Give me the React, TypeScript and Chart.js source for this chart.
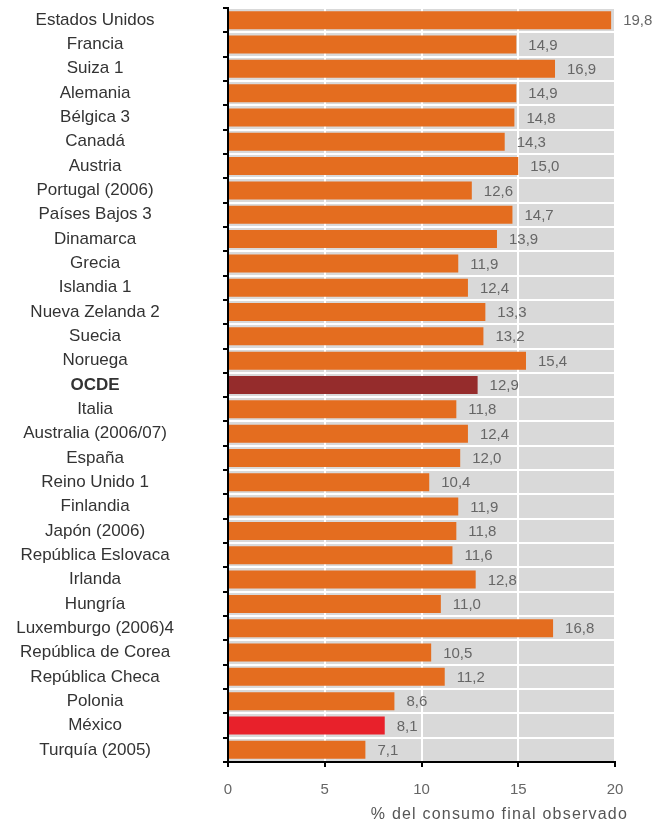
import React, { useEffect, useRef } from 'react';
import { Chart, registerables } from 'chart.js';

Chart.register(...registerables);

const categories = [
  'Estados Unidos', 'Francia', 'Suiza 1', 'Alemania', 'Bélgica 3', 'Canadá', 'Austria',
  'Portugal (2006)', 'Países Bajos 3', 'Dinamarca', 'Grecia', 'Islandia 1', 'Nueva Zelanda 2',
  'Suecia', 'Noruega', 'OCDE', 'Italia', 'Australia (2006/07)', 'España', 'Reino Unido 1',
  'Finlandia', 'Japón (2006)', 'República Eslovaca', 'Irlanda', 'Hungría', 'Luxemburgo (2006)4',
  'República de Corea', 'República Checa', 'Polonia', 'México', 'Turquía (2005)',
];

const values = [
  19.8, 14.9, 16.9, 14.9, 14.8, 14.3, 15.0, 12.6, 14.7, 13.9, 11.9, 12.4, 13.3, 13.2, 15.4,
  12.9, 11.8, 12.4, 12.0, 10.4, 11.9, 11.8, 11.6, 12.8, 11.0, 16.8, 10.5, 11.2, 8.6, 8.1, 7.1,
];

const xTicks = [0, 5, 10, 15, 20];
const axisTitle = '% del consumo final observado';
const averageLabel = 'OCDE';
const highlightLabel = 'México';

const FONT = '"Liberation Sans", Arial, sans-serif';
const ORANGE = '#E46D1F';
const DARK_RED = '#952C2C';
const RED = '#E8212B';

const fmt = (v: number) => v.toFixed(1).replace('.', ',');

export default function App() {
  const ref = useRef<HTMLCanvasElement | null>(null);

  useEffect(() => {
    if (!ref.current) return;

    const bgPlugin = {
      id: 'plotBg',
      beforeDraw(chart: any) {
        const { ctx, chartArea } = chart;
        ctx.save();
        ctx.fillStyle = '#d9d9d9';
        ctx.fillRect(chartArea.left, chartArea.top, chartArea.right - chartArea.left, chartArea.bottom - chartArea.top);
        ctx.restore();
      },
    };

    const labelPlugin = {
      id: 'valueLabels',
      afterDatasetsDraw(chart: any) {
        const { ctx } = chart;
        const meta = chart.getDatasetMeta(0);
        ctx.save();
        ctx.font = `15px ${FONT}`;
        ctx.fillStyle = '#666';
        ctx.textAlign = 'left';
        ctx.textBaseline = 'middle';
        meta.data.forEach((el: any, i: number) => {
          ctx.fillText(fmt(values[i]), el.x + 12, el.y + 1);
        });
        ctx.restore();
      },
      afterDraw(chart: any) {
        const { ctx } = chart;
        ctx.save();
        ctx.font = `16px ${FONT}`;
        ctx.fillStyle = '#555';
        ctx.textAlign = 'right';
        ctx.textBaseline = 'middle';
        try { (ctx as any).letterSpacing = '1.2px'; } catch (e) {}
        ctx.fillText(axisTitle, 628, 815);
        ctx.restore();
      },
    };

    const chart = new Chart(ref.current, {
      type: 'bar',
      data: {
        labels: categories,
        datasets: [
          {
            data: values,
            backgroundColor: categories.map((c) =>
              c === averageLabel ? DARK_RED : c === highlightLabel ? RED : ORANGE
            ),
            barPercentage: 0.74,
            categoryPercentage: 1,
          },
        ],
      },
      options: {
        indexAxis: 'y',
        animation: false,
        responsive: false,
        maintainAspectRatio: false,
        layout: { padding: { top: 8, right: 39, left: 0, bottom: 0 } },
        plugins: {
          legend: { display: false },
          tooltip: { enabled: false },
        },
        scales: {
          x: {
            type: 'linear',
            position: 'bottom',
            min: xTicks[0],
            max: xTicks[xTicks.length - 1],
            afterBuildTicks: (scale: any) => {
              scale.ticks = xTicks.map((v) => ({ value: v }));
            },
            ticks: {
              color: '#666',
              font: { size: 15, family: FONT },
              padding: 14,
            },
            grid: {
              color: (ctx: any) => (ctx.tick && ctx.tick.value === 0 ? 'rgba(0,0,0,0)' : '#ffffff'),
              lineWidth: 2,
              tickColor: '#000',
              tickLength: 5,
            },
            border: { color: '#000', width: 2 },
            afterFit: (scale: any) => {
              scale.height = 66;
              scale.paddingLeft = 0;
              scale.paddingRight = 0;
            },
          },
          y: {
            type: 'category',
            position: 'left',
            ticks: {
              color: '#333',
              crossAlign: 'center',
              padding: 49,
              autoSkip: false,
              font: (ctx: any) => ({
                size: 17,
                family: FONT,
                weight: ctx.tick && ctx.tick.label === averageLabel ? 'bold' : 'normal',
              }),
            },
            grid: {
              color: '#ffffff',
              lineWidth: 2,
              tickColor: '#000',
              tickLength: 5,
              offset: true,
            },
            border: { color: '#000', width: 2 },
            afterFit: (scale: any) => {
              scale.width = 228;
              scale.paddingTop = 0;
              scale.paddingBottom = 0;
            },
          },
        },
      },
      plugins: [bgPlugin, labelPlugin],
    } as any);

    return () => chart.destroy();
  }, []);

  return (
    <div style={{ position: 'absolute', left: 0, top: 0, width: 654, height: 828, background: '#fff' }}>
      <canvas ref={ref} width={654} height={828} />
    </div>
  );
}
